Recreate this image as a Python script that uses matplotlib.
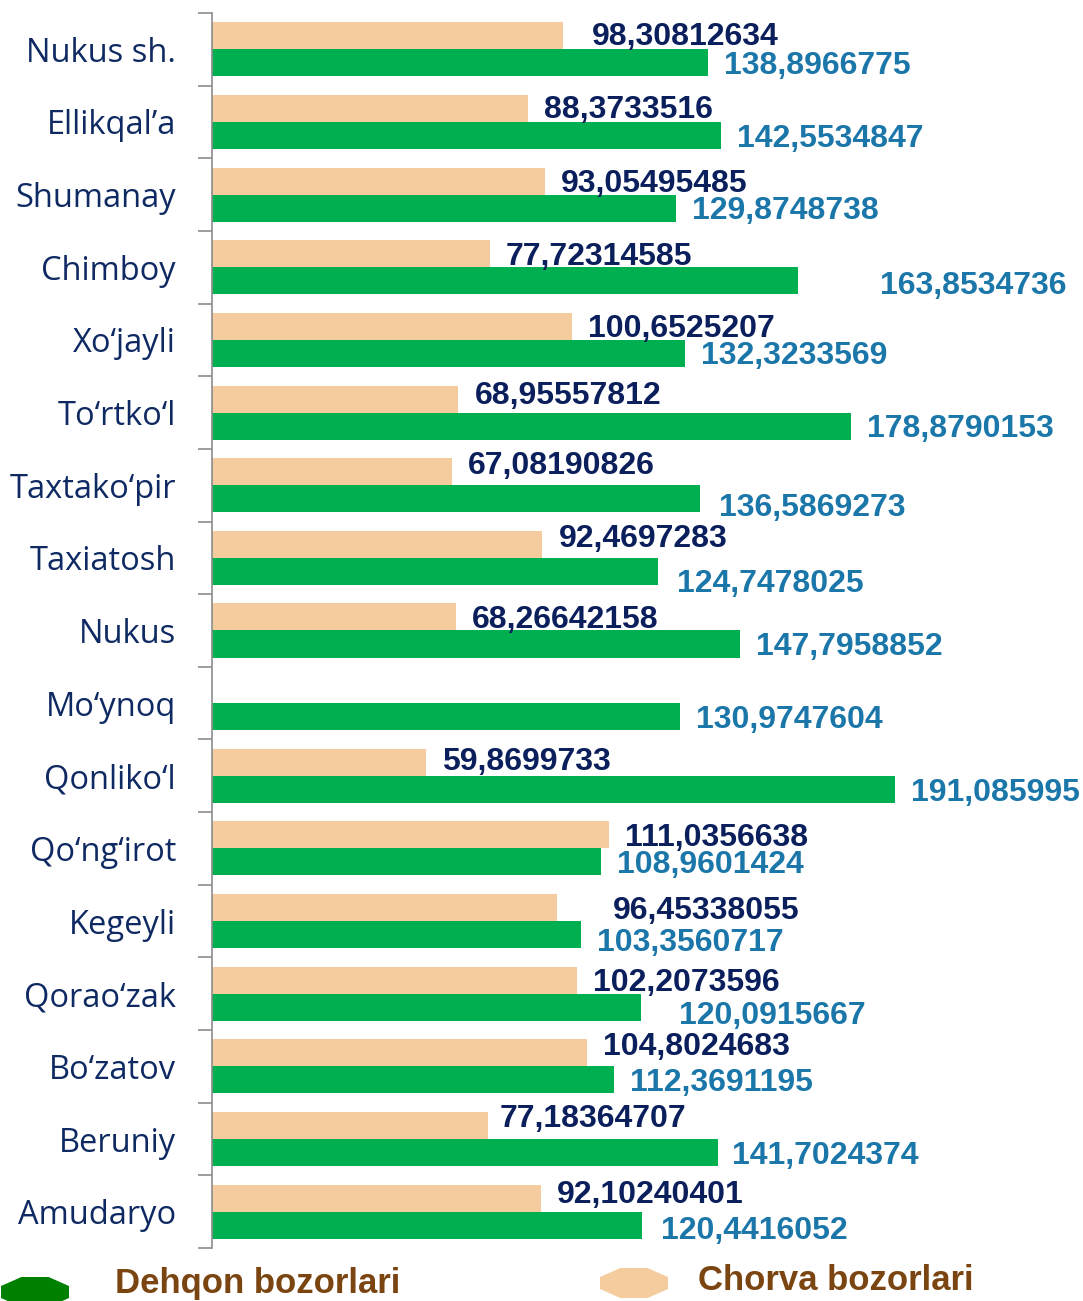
import matplotlib.pyplot as plt
from matplotlib.patches import Polygon
import numpy as np

# data (top to bottom, as in the chart)
districts = ["Nukus sh.", "Ellikqal\u2019a", "Shumanay", "Chimboy", "Xo\u2018jayli",
             "To\u2018rtko\u2018l", "Taxtako\u2018pir", "Taxiatosh", "Nukus", "Mo\u2018ynoq",
             "Qonliko\u2018l", "Qo\u2018ng\u2018irot", "Kegeyli", "Qorao\u2018zak",
             "Bo\u2018zatov", "Beruniy", "Amudaryo"]
chorva = [98.30812634, 88.3733516, 93.05495485, 77.72314585, 100.6525207,
          68.95557812, 67.08190826, 92.4697283, 68.26642158, np.nan,
          59.8699733, 111.0356638, 96.45338055, 102.2073596,
          104.8024683, 77.18364707, 92.10240401]
dehqon = [138.8966775, 142.5534847, 129.8748738, 163.8534736, 132.3233569,
          178.8790153, 136.5869273, 124.7478025, 147.7958852, 130.9747604,
          191.085995, 108.9601424, 103.3560717, 120.0915667,
          112.3691195, 141.7024374, 120.4416052]
chorva_lbl = ["98,30812634", "88,3733516", "93,05495485", "77,72314585", "100,6525207",
              "68,95557812", "67,08190826", "92,4697283", "68,26642158", "",
              "59,8699733", "111,0356638", "96,45338055", "102,2073596",
              "104,8024683", "77,18364707", "92,10240401"]
dehqon_lbl = ["138,8966775", "142,5534847", "129,8748738", "163,8534736", "132,3233569",
              "178,8790153", "136,5869273", "124,7478025", "147,7958852", "130,9747604",
              "191,085995", "108,9601424", "103,3560717", "120,0915667",
              "112,3691195", "141,7024374", "120,4416052"]

# label nudges (pixels) the way they were dragged in the original
chorva_dx = [13, 0, 0, 0, 0, 0, 0, 0, 0, 0, 0, 0, 40, 0, 0, -4, 0]
chorva_dy = [1, 0, -1, -1, -1, 5, 8, 7, -1, 0, 2, -1, -1, -1, 8, 9, 5]
dehqon_dx = [0, 0, 0, 66, 0, 0, 3, 3, 0, 0, 0, 0, 0, 22, 0, -2, 3]
dehqon_dy = [-1, -2, -1, -3, -1, -1, -7, -11, -1, -1, -2, -1, -6, -7, -1, -1, -4]

GREEN = "#00B050"
ORANGE = "#F4CC9E"
NAVY = "#0A1F5C"
TEAL = "#1B77A9"
BROWN = "#7A4510"

plt.rcParams['font.family'] = ['Liberation Sans', 'DejaVu Sans']

fig = plt.figure(figsize=(10.83, 13.01), dpi=100)
W, H = 1083, 1301
ax = fig.add_axes([212 / W, (H - 1248) / H, (W - 212) / W, (1248 - 13) / H])

n = len(districts)
y = np.arange(n)
bh = 0.372
ax.barh(y - bh / 2, chorva, height=bh, color=ORANGE, edgecolor='none')
ax.barh(y + bh / 2, dehqon, height=bh, color=GREEN, edgecolor='none')

ax.set_xlim(0, (W - 212) / 3.574)
ax.set_ylim(n - 0.5, -0.5)

for i in range(n):
    if chorva_lbl[i]:
        ax.annotate(chorva_lbl[i], (chorva[i], i - bh / 2), xytext=(16 + chorva_dx[i], chorva_dy[i] - 2),
                    textcoords='offset pixels', ha='left', va='center', fontsize=23,
                    fontweight='bold', color=NAVY)
    ax.annotate(dehqon_lbl[i], (dehqon[i], i + bh / 2), xytext=(16 + dehqon_dx[i], dehqon_dy[i] - 2),
                textcoords='offset pixels', ha='left', va='center', fontsize=23,
                fontweight='bold', color=TEAL)

ax.set_yticks(np.arange(n + 1) - 0.5, minor=False)
ax.set_yticklabels([])
ax.set_yticks(y, minor=True)
ax.set_yticklabels(districts, minor=True, fontsize=23.5, color="#0F2A63",
                   family=['Open Sans', 'DejaVu Sans'])
ax.tick_params(axis='y', which='major', length=10, width=1.2, color='#8C8C8C', direction='out')
ax.tick_params(axis='y', which='minor', length=0, pad=26)
ax.set_xticks([])
for s in ['top', 'right', 'bottom']:
    ax.spines[s].set_visible(False)
ax.spines['left'].set_color('#8C8C8C')
ax.spines['left'].set_linewidth(1.2)

# legend drawn by hand along the bottom edge
def hexagon(cx, cy, w, h, color):
    pts = [(cx - w / 2, cy + h * 0.2), (cx - w * 0.2, cy + h / 2), (cx + w * 0.2, cy + h / 2),
           (cx + w / 2, cy + h * 0.2), (cx + w / 2, cy - h * 0.2), (cx + w * 0.2, cy - h / 2),
           (cx - w * 0.2, cy - h / 2), (cx - w / 2, cy - h * 0.2)]
    pts = [(px / W, 1 - py / H) for px, py in pts]
    fig.add_artist(Polygon(pts, closed=True, transform=fig.transFigure, color=color, lw=0))

hexagon(35, 1292, 68, 30, "#008000")
hexagon(634, 1283, 68, 30, ORANGE)
fig.text(115 / W, 1 - 1283 / H, "Dehqon bozorlari", fontsize=25, fontweight='bold', color=BROWN,
         va='center', ha='left', family=['Liberation Sans Narrow', 'Liberation Sans'])
fig.text(698 / W, 1 - 1280 / H, "Chorva bozorlari", fontsize=25, fontweight='bold', color=BROWN,
         va='center', ha='left', family=['Liberation Sans Narrow', 'Liberation Sans'])

fig.savefig('out.png', dpi=100)
